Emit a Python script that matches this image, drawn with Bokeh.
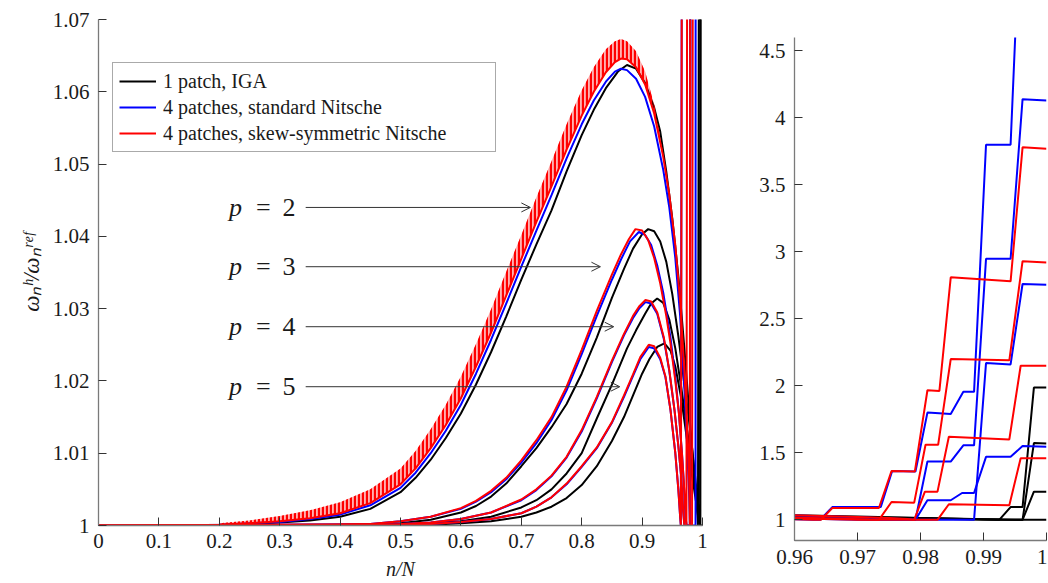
from bokeh.plotting import figure
from bokeh.layouts import row, column
from bokeh.models import (Range1d, FixedTicker, CustomJSTickFormatter, Legend, LegendItem,
                          Arrow, OpenHead, Label)
from bokeh.embed import file_html
from bokeh.resources import INLINE

# ---------------- data ----------------
# 1 patch, IGA (black)
iga_p2_x = [0.0, 0.1, 0.2, 0.25, 0.3, 0.35, 0.4, 0.45, 0.5, 0.525, 0.55, 0.575, 0.6, 0.625, 0.65, 0.675, 0.7, 0.725, 0.75, 0.775, 0.8, 0.82, 0.84, 0.86, 0.875, 0.89, 0.905, 0.92, 0.93, 0.94, 0.95, 0.96, 0.97, 0.98, 0.987, 0.992, 0.9925, 0.9943, 0.9962, 0.998, 1.0]
iga_p2_y = [1.0, 1.0, 1.00005, 1.0002, 1.0004, 1.0007, 1.0012, 1.0023, 1.0046, 1.0066, 1.0091, 1.0121, 1.0155, 1.0195, 1.0240, 1.0289, 1.0340, 1.0389, 1.0436, 1.0490, 1.0540, 1.0575, 1.0605, 1.0628, 1.0637, 1.0632, 1.0612, 1.0578, 1.0545, 1.0490, 1.0425, 1.0345, 1.0245, 1.0135, 1.0065, 1.0010, 1.0, 1.095, 1.095, 1.987, 1.987]
iga_p3_x = [0.0, 0.4, 0.45, 0.5, 0.55, 0.6, 0.625, 0.65, 0.675, 0.7, 0.725, 0.75, 0.775, 0.8, 0.825, 0.85, 0.87, 0.885, 0.9, 0.91, 0.92, 0.93, 0.94, 0.95, 0.96, 0.97, 0.977, 0.985, 0.99, 0.995, 0.9962, 0.998, 1.0]
iga_p3_y = [1.0, 1.0, 1.0001, 1.0003, 1.0008, 1.0018, 1.0027, 1.0040, 1.0058, 1.0082, 1.0107, 1.0136, 1.0168, 1.0210, 1.0260, 1.0315, 1.0355, 1.0383, 1.0403, 1.0410, 1.0407, 1.0393, 1.0365, 1.0320, 1.0262, 1.0195, 1.0150, 1.0090, 1.0050, 1.0012, 1.0, 1.573, 1.570]
iga_p4_x = [0.0, 0.5, 0.55, 0.6, 0.65, 0.7, 0.725, 0.75, 0.775, 0.8, 0.825, 0.85, 0.875, 0.89, 0.905, 0.915, 0.925, 0.935, 0.945, 0.955, 0.965, 0.975, 0.982, 0.988, 0.993, 0.9962, 0.998, 1.0]
iga_p4_y = [1.0, 1.0001, 1.0003, 1.0006, 1.0012, 1.0025, 1.0035, 1.0050, 1.0072, 1.0100, 1.0148, 1.0195, 1.0245, 1.0270, 1.0293, 1.0307, 1.0314, 1.0308, 1.0285, 1.0245, 1.0190, 1.0130, 1.0085, 1.0048, 1.0015, 1.0, 1.21, 1.21]
iga_p5_x = [0.0, 0.5, 0.55, 0.6, 0.65, 0.7, 0.725, 0.75, 0.775, 0.8, 0.825, 0.85, 0.87, 0.885, 0.9, 0.912, 0.925, 0.937, 0.947, 0.955, 0.965, 0.975, 0.982, 0.988, 0.993, 0.9962, 1.0]
iga_p5_y = [1.0, 1.0, 1.0001, 1.0003, 1.0006, 1.0012, 1.0018, 1.0026, 1.0038, 1.0056, 1.0082, 1.0117, 1.0150, 1.0180, 1.0210, 1.0230, 1.0247, 1.0252, 1.0242, 1.0220, 1.0175, 1.0115, 1.0072, 1.0040, 1.0012, 1.0, 1.0]

# 4 patches, standard Nitsche (blue)
std_p2_x = [0.0, 0.1, 0.2, 0.25, 0.3, 0.35, 0.4, 0.45, 0.5, 0.525, 0.55, 0.575, 0.6, 0.625, 0.65, 0.675, 0.7, 0.725, 0.75, 0.775, 0.8, 0.82, 0.84, 0.855, 0.865, 0.875, 0.89, 0.905, 0.92, 0.935, 0.945, 0.955, 0.963, 0.97, 0.975, 0.978, 0.9792, 0.9811, 0.9848, 0.9868, 0.9885, 0.9904, 0.9943, 0.9962, 1.0]
std_p2_y = [1.0, 1.0, 1.0001, 1.0003, 1.0005, 1.0009, 1.0015, 1.0028, 1.0052, 1.0073, 1.0100, 1.0131, 1.0167, 1.0210, 1.0257, 1.0307, 1.0358, 1.0408, 1.0457, 1.0508, 1.0555, 1.0588, 1.0614, 1.0628, 1.0632, 1.0630, 1.0618, 1.0593, 1.0552, 1.0492, 1.0440, 1.0370, 1.0290, 1.0190, 1.0100, 1.0040, 1.0, 1.435, 1.435, 1.556, 1.556, 2.948, 2.948, 4.14, 4.13]
std_p3_x = [0.0, 0.4, 0.45, 0.5, 0.55, 0.6, 0.625, 0.65, 0.675, 0.7, 0.725, 0.75, 0.775, 0.8, 0.825, 0.85, 0.865, 0.88, 0.8946, 0.905, 0.915, 0.925, 0.935, 0.947, 0.955, 0.961, 0.966, 0.969, 0.972, 0.974, 0.9792, 0.9811, 0.9848, 0.9866, 0.9885, 0.9904, 0.9943, 0.9962, 1.0]
std_p3_y = [1.0, 1.0001, 1.0002, 1.0006, 1.0012, 1.0023, 1.0033, 1.0046, 1.0064, 1.0087, 1.0114, 1.0146, 1.0187, 1.0237, 1.0290, 1.0340, 1.0368, 1.0393, 1.0406, 1.0402, 1.0388, 1.0360, 1.0322, 1.0260, 1.0205, 1.0155, 1.0100, 1.0060, 1.0010, 1.0, 1.0, 1.146, 1.146, 1.20, 1.20, 1.47, 1.47, 1.55, 1.545]
std_p4_x = [0.0, 0.5, 0.55, 0.6, 0.65, 0.7, 0.725, 0.75, 0.775, 0.8, 0.825, 0.85, 0.87, 0.885, 0.895, 0.9056, 0.915, 0.925, 0.936, 0.945, 0.9536, 0.96, 0.9647, 0.968, 0.97, 0.9885, 0.9904, 0.9943, 0.9962, 1.0]
std_p4_y = [1.0, 1.0002, 1.0004, 1.0009, 1.0018, 1.0035, 1.0049, 1.0068, 1.0094, 1.0130, 1.0176, 1.0226, 1.0263, 1.0287, 1.0300, 1.0309, 1.0307, 1.0293, 1.0258, 1.0214, 1.0160, 1.0110, 1.0068, 1.0020, 1.0, 1.0, 2.17, 2.16, 2.76, 2.755]
std_p5_x = [0.0, 0.5, 0.55, 0.6, 0.65, 0.7, 0.725, 0.75, 0.775, 0.8, 0.825, 0.85, 0.87, 0.885, 0.897, 0.911, 0.92, 0.93, 0.9387, 0.947, 0.955, 0.96, 0.963, 0.9641, 0.966, 0.9737, 0.9755, 0.9792, 0.9811, 0.9848, 0.9868, 0.9885, 0.9904, 0.9943, 0.9953, 1.0]
std_p5_y = [1.0, 1.0, 1.0002, 1.0005, 1.0009, 1.0017, 1.0026, 1.0039, 1.0057, 1.0081, 1.0107, 1.0142, 1.0178, 1.0207, 1.0230, 1.0247, 1.0245, 1.0230, 1.0205, 1.0160, 1.0100, 1.0050, 1.0012, 1.0, 1.095, 1.095, 1.364, 1.36, 1.80, 1.79, 1.955, 1.955, 3.80, 3.80, 4.9, 4.9]

# 4 patches, skew-symmetric Nitsche (red)
skew_p2_x = [0.0, 0.1, 0.2, 0.25, 0.3, 0.35, 0.4, 0.45, 0.5, 0.525, 0.55, 0.575, 0.6, 0.625, 0.65, 0.675, 0.7, 0.725, 0.75, 0.775, 0.8, 0.82, 0.84, 0.855, 0.865, 0.875, 0.89, 0.905, 0.92, 0.935, 0.945, 0.955, 0.963, 0.97, 0.975, 0.978, 0.979, 0.9807, 0.9827, 0.9845, 0.9941, 0.9959, 1.0]
skew_p2_y = [1.0, 1.0, 1.0001, 1.0003, 1.0006, 1.0010, 1.0017, 1.0031, 1.0057, 1.0079, 1.0107, 1.0139, 1.0176, 1.0220, 1.0267, 1.0318, 1.0369, 1.0420, 1.0469, 1.0520, 1.0567, 1.0600, 1.0627, 1.0641, 1.0646, 1.0645, 1.0634, 1.0610, 1.0570, 1.0510, 1.0458, 1.0388, 1.0310, 1.0215, 1.0130, 1.0060, 1.0, 1.21, 1.21, 1.62, 1.60, 2.15, 2.15]
skew_p3_x = [0.0, 0.4, 0.45, 0.5, 0.55, 0.6, 0.625, 0.65, 0.675, 0.7, 0.725, 0.75, 0.775, 0.8, 0.825, 0.85, 0.865, 0.878, 0.889, 0.9, 0.91, 0.92, 0.93, 0.94, 0.947, 0.955, 0.961, 0.966, 0.969, 0.9718, 0.9734, 0.9754, 0.979, 0.9808, 0.9828, 0.9848, 0.9941, 0.9962, 1.0]
skew_p3_y = [1.0, 1.0001, 1.0002, 1.0006, 1.0012, 1.0024, 1.0034, 1.0048, 1.0066, 1.0090, 1.0118, 1.0150, 1.0192, 1.0243, 1.0297, 1.0347, 1.0375, 1.0396, 1.0410, 1.0408, 1.0395, 1.0370, 1.0335, 1.0290, 1.0252, 1.0200, 1.0155, 1.0100, 1.0060, 1.0017, 1.0, 1.133, 1.128, 1.56, 1.56, 2.20, 2.19, 2.93, 2.92]
skew_p4_x = [0.0, 0.5, 0.55, 0.6, 0.65, 0.7, 0.725, 0.75, 0.775, 0.8, 0.825, 0.85, 0.87, 0.885, 0.895, 0.9056, 0.915, 0.925, 0.936, 0.945, 0.9536, 0.96, 0.9647, 0.968, 0.97, 0.9827, 0.9845, 0.9941, 0.9959, 1.0]
skew_p4_y = [1.0, 1.0002, 1.0004, 1.0009, 1.0018, 1.0036, 1.0050, 1.0069, 1.0095, 1.0132, 1.0178, 1.0228, 1.0265, 1.0290, 1.0303, 1.0312, 1.0310, 1.0295, 1.0260, 1.0215, 1.0160, 1.0110, 1.0068, 1.0020, 1.0, 1.0, 1.116, 1.108, 1.46, 1.46]
skew_p5_x = [0.0, 0.5, 0.55, 0.6, 0.65, 0.7, 0.725, 0.75, 0.775, 0.8, 0.825, 0.85, 0.87, 0.885, 0.897, 0.911, 0.92, 0.93, 0.9387, 0.947, 0.955, 0.96, 0.963, 0.9642, 0.966, 0.9734, 0.9754, 0.9791, 0.9811, 0.983, 0.9848, 0.9943, 0.9962, 1.0]
skew_p5_y = [1.0, 1.0, 1.0002, 1.0005, 1.0009, 1.0017, 1.0026, 1.0039, 1.0058, 1.0082, 1.0108, 1.0143, 1.0180, 1.0209, 1.0233, 1.0250, 1.0248, 1.0232, 1.0206, 1.0160, 1.0100, 1.0050, 1.0012, 1.0, 1.088, 1.088, 1.364, 1.36, 1.967, 1.962, 2.81, 2.78, 3.78, 3.77]

# oscillation band of the skew-symmetric p=2 curve (lower / upper envelope)
skew_p2_band_x = [0.2, 0.25, 0.3, 0.35, 0.4, 0.45, 0.5, 0.525, 0.55, 0.575, 0.6, 0.625, 0.65, 0.675, 0.7, 0.725, 0.75, 0.775, 0.8, 0.82, 0.84, 0.855, 0.865, 0.875, 0.89, 0.905, 0.92, 0.935]
skew_p2_band_lo = [1.0001, 1.0003, 1.0006, 1.0010, 1.0017, 1.0031, 1.0057, 1.0079, 1.0107, 1.0139, 1.0176, 1.0220, 1.0267, 1.0318, 1.0369, 1.0420, 1.0469, 1.0520, 1.0567, 1.0600, 1.0627, 1.0641, 1.0646, 1.0645, 1.0634, 1.0610, 1.0570, 1.0510]
skew_p2_band_hi = [1.0003, 1.0007, 1.0013, 1.0021, 1.0032, 1.0050, 1.0079, 1.0103, 1.0133, 1.0167, 1.0206, 1.0251, 1.0299, 1.0351, 1.0402, 1.0454, 1.0504, 1.0555, 1.0602, 1.0634, 1.0659, 1.0670, 1.0673, 1.0670, 1.0656, 1.0628, 1.0582, 1.0515]

# annotations
p_labels = ["2", "3", "4", "5"]
arrow_y = [1.0440, 1.0358, 1.0275, 1.0192]
arrow_x_start = 0.343
arrow_x_end = [0.715, 0.831, 0.853, 0.863]
label_x = 0.326

legend_labels = ["1 patch, IGA", "4 patches, standard Nitsche", "4 patches, skew-symmetric Nitsche"]

# ticks
left_xticks = [0.0, 0.1, 0.2, 0.3, 0.4, 0.5, 0.6, 0.7, 0.8, 0.9, 1.0]
left_yticks = [1.0, 1.01, 1.02, 1.03, 1.04, 1.05, 1.06, 1.07]
right_xticks = [0.96, 0.97, 0.98, 0.99, 1.0]
right_yticks = [1.0, 1.5, 2.0, 2.5, 3.0, 3.5, 4.0, 4.5]

# ---------------- styling ----------------
SERIF = "Liberation Serif"
TXT = "#1a1a1a"
BLACK, BLUE, RED = "#000000", "#0000ff", "#ff0000"
LW = 2

series = [
    (BLACK, [(iga_p2_x, iga_p2_y), (iga_p3_x, iga_p3_y), (iga_p4_x, iga_p4_y), (iga_p5_x, iga_p5_y)]),
    (BLUE, [(std_p2_x, std_p2_y), (std_p3_x, std_p3_y), (std_p4_x, std_p4_y), (std_p5_x, std_p5_y)]),
    (RED, [(skew_p2_x, skew_p2_y), (skew_p3_x, skew_p3_y), (skew_p4_x, skew_p4_y), (skew_p5_x, skew_p5_y)]),
]

fmt_code = r"return tick.toFixed(2).replace(/\.?0+$/, '');"


def style(p, xt, yt):
    p.xgrid.visible = False
    p.ygrid.visible = False
    p.outline_line_color = None
    p.background_fill_color = "white"
    p.border_fill_color = "white"
    p.xaxis.ticker = FixedTicker(ticks=xt)
    p.yaxis.ticker = FixedTicker(ticks=yt)
    for ax in (p.xaxis[0], p.yaxis[0]):
        ax.formatter = CustomJSTickFormatter(code=fmt_code)
        ax.axis_line_color = "#7a7a7a"
        ax.axis_line_width = 1.3
        ax.major_tick_line_color = "#333333"
        ax.major_tick_in = 8
        ax.major_tick_out = 0
        ax.minor_tick_in = 0
        ax.minor_tick_out = 0
        ax.major_label_standoff = 9
        ax.major_label_text_font = SERIF
        ax.major_label_text_font_size = "21px"
        ax.major_label_text_color = TXT


H = 582

# ---------------- left figure ----------------
p1 = figure(width=750, height=H, x_range=Range1d(0.0, 1.0), y_range=Range1d(1.0, 1.07),
            output_backend="svg", toolbar_location=None,
            min_border_left=98, min_border_right=48, min_border_top=19, min_border_bottom=56)
style(p1, left_xticks, left_yticks)
p1.xaxis.major_label_standoff = 8
p1.xaxis.axis_label = "n/N"
p1.xaxis.axis_label_text_font = SERIF
p1.xaxis.axis_label_text_font_style = "italic"
p1.xaxis.axis_label_text_font_size = "20px"
p1.xaxis.axis_label_text_color = TXT
p1.xaxis.axis_label_standoff = 7
p1.yaxis.axis_label = "ωₙʰ/ωₙʳᵉᶠ"
p1.yaxis.axis_label_text_font = SERIF
p1.yaxis.axis_label_text_font_style = "italic"
p1.yaxis.axis_label_text_font_size = "23px"
p1.yaxis.axis_label_text_color = TXT
p1.yaxis.axis_label_standoff = 6

first = {}
for color, curves in series:
    for i, (xs, ys) in enumerate(curves):
        r = p1.line(xs, ys, line_color=color, line_width=LW)
        if i == 0:
            first[color] = r

p1.varea(x=skew_p2_band_x, y1=skew_p2_band_lo, y2=skew_p2_band_hi,
         fill_color=RED, fill_alpha=0.3,
         hatch_pattern="vertical_line", hatch_color=RED, hatch_scale=4, hatch_weight=2.3, hatch_alpha=1.0)

legend = Legend(items=[LegendItem(label=legend_labels[0], renderers=[first[BLACK]]),
                       LegendItem(label=legend_labels[1], renderers=[first[BLUE]]),
                       LegendItem(label=legend_labels[2], renderers=[first[RED]])],
                location=(14, 373), margin=0, padding=6, spacing=2,
                glyph_width=37, glyph_height=24, label_height=24, label_width=326, label_standoff=7,
                label_text_font=SERIF, label_text_font_size="20px", label_text_color=TXT,
                border_line_color="#555555", border_line_width=1, background_fill_color="white",
                background_fill_alpha=1.0)
p1.add_layout(legend, "center")

for lab, ay, ax_end in zip(p_labels, arrow_y, arrow_x_end):
    p1.add_layout(Arrow(end=OpenHead(size=9, line_width=1, line_color="#333333"),
                        x_start=arrow_x_start, y_start=ay, x_end=ax_end, y_end=ay,
                        line_width=1, line_color="#333333"))
    p1.add_layout(Label(x=label_x, y=ay, text=lab, text_align="right", text_baseline="middle",
                        text_font=SERIF, text_font_size="26px", text_color=TXT))
    p1.add_layout(Label(x=label_x, y=ay, x_offset=-32, text="=", text_align="center", text_baseline="middle",
                        text_font=SERIF, text_font_size="26px", text_color=TXT))
    p1.add_layout(Label(x=label_x, y=ay, x_offset=-60, text="p", text_align="center", text_baseline="middle",
                        text_font=SERIF, text_font_style="italic", text_font_size="26px", text_color=TXT))

# ---------------- right figure (zoom near n/N = 1) ----------------
p2 = figure(width=297, height=H, x_range=Range1d(0.96, 1.0), y_range=Range1d(0.8455, 4.6),
            output_backend="svg", toolbar_location=None,
            min_border_left=44, min_border_right=1, min_border_top=37, min_border_bottom=42)
style(p2, right_xticks, right_yticks)
for color, curves in series:
    for xs, ys in curves:
        p2.line(xs, ys, line_color=color, line_width=LW)

layout = row(p1, column(p2))
open("out.html", "w").write(file_html(layout, INLINE))
